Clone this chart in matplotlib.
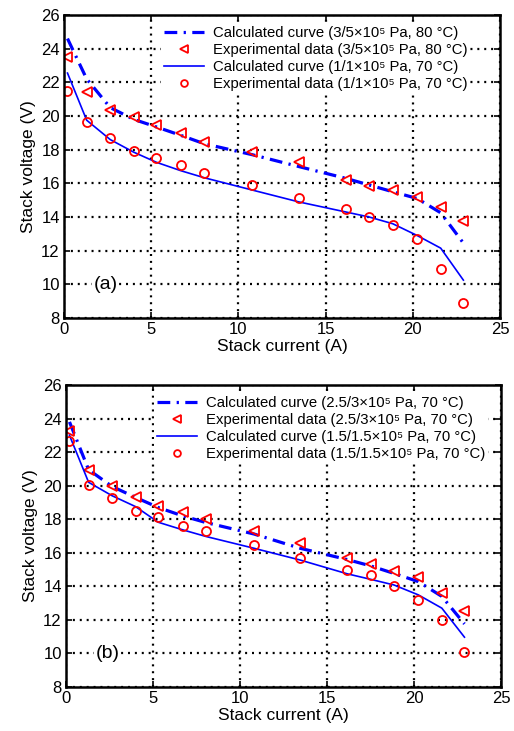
import matplotlib
matplotlib.use('Agg')
import matplotlib.pyplot as plt
import numpy as np

plt.rcParams['font.family'] = ['Liberation Sans', 'DejaVu Sans']

# stack current (A), shared by all series
current = [0.2, 1.3, 2.65, 4.0, 5.3, 6.7, 8.05, 10.8, 13.45, 16.15, 17.5, 18.85, 20.25, 21.6, 22.9]

# panel (a)
exp_hi_a = [23.5, 21.45, 20.37, 19.92, 19.45, 18.97, 18.43, 17.85, 17.25, 16.2, 15.85, 15.6, 15.2, 14.6, 13.75]
exp_lo_a = [21.5, 19.65, 18.68, 17.93, 17.5, 17.1, 16.62, 15.9, 15.1, 14.45, 14.0, 13.5, 12.7, 10.9, 8.9]
calc_hi_a = [24.6, 22.2, 20.5, 19.8, 19.35, 18.85, 18.35, 17.7, 17.0, 16.3, 15.9, 15.5, 15.1, 14.25, 12.45]
calc_lo_a = [22.55, 19.75, 18.6, 17.85, 17.25, 16.75, 16.33, 15.6, 14.9, 14.3, 14.0, 13.6, 12.9, 12.15, 10.25]
labels_a = ['Calculated curve (3/5×10⁵ Pa, 80 °C)',
            'Experimental data (3/5×10⁵ Pa, 80 °C)',
            'Calculated curve (1/1×10⁵ Pa, 70 °C)',
            'Experimental data (1/1×10⁵ Pa, 70 °C)']

# panel (b)
exp_hi_b = [23.24, 20.96, 20.0, 19.34, 18.8, 18.44, 18.0, 17.32, 16.57, 15.7, 15.33, 14.93, 14.53, 13.58, 12.53]
exp_lo_b = [22.66, 20.06, 19.26, 18.5, 18.14, 17.6, 17.3, 16.47, 15.71, 14.97, 14.67, 14.04, 13.19, 12.0, 10.08]
calc_hi_b = [23.8, 20.95, 19.95, 19.3, 18.7, 18.2, 17.8, 17.12, 16.27, 15.6, 15.22, 14.77, 14.28, 13.4, 11.76]
calc_lo_b = [23.0, 20.2, 19.4, 18.75, 17.82, 17.37, 16.97, 16.27, 15.57, 14.75, 14.42, 14.08, 13.49, 12.7, 10.97]
labels_b = ['Calculated curve (2.5/3×10⁵ Pa, 70 °C)',
            'Experimental data (2.5/3×10⁵ Pa, 70 °C)',
            'Calculated curve (1.5/1.5×10⁵ Pa, 70 °C)',
            'Experimental data (1.5/1.5×10⁵ Pa, 70 °C)']

fig = plt.figure(figsize=(5.14, 7.31), dpi=100)
ax_a = fig.add_axes([64/514, 1-318/731, 436/514, 303/731])
ax_b = fig.add_axes([66/514, 1-687/731, 435/514, 302/731])


def draw_panel(ax, calc_hi, exp_hi, calc_lo, exp_lo, labels, tag, leg_x):
    ax.plot(current, calc_hi, color='#0000ff', lw=2.3,
            linestyle=(0, (4, 2, 0.7, 2)), label=labels[0])
    ax.plot(current, exp_hi, linestyle='none', marker='<', ms=7,
            mfc='none', mec='#ff0000', mew=1.3, label=labels[1])
    ax.plot(current, calc_lo, color='#0000ff', lw=1.2, label=labels[2])
    ax.plot(current, exp_lo, linestyle='none', marker='o', ms=6.5,
            mfc='none', mec='#ff0000', mew=1.3, label=labels[3])

    ax.set_xlim(0, 25)
    ax.set_ylim(8, 26)
    ax.set_xticks(np.arange(0, 26, 5))
    ax.set_yticks(np.arange(8, 27, 2))
    ax.grid(True, color='black', lw=1.6, linestyle=(0, (0.9, 2.2)))
    ax.tick_params(direction='in', top=True, right=True, length=4,
                   width=1.2, labelsize=12, pad=3)
    for s in ax.spines.values():
        s.set_linewidth(1.8)
    ax.set_xlabel('Stack current (A)', fontsize=12.5, labelpad=1)
    ax.set_ylabel('Stack voltage (V)', fontsize=12.5, labelpad=4)
    ax.text(1.7, 10, tag, fontsize=14, va='center', ha='left',
            bbox=dict(facecolor='white', edgecolor='none', pad=1))
    ax.legend(loc='upper right', bbox_to_anchor=(leg_x, 0.972),
              fontsize=10.7, frameon=True, framealpha=1, edgecolor='none',
              fancybox=False, markerscale=0.75, handlelength=2.7,
              handletextpad=0.6, labelspacing=0.2, borderpad=0.2,
              borderaxespad=0)


draw_panel(ax_a, calc_hi_a, exp_hi_a, calc_lo_a, exp_lo_a, labels_a, '(a)', 0.932)
draw_panel(ax_b, calc_hi_b, exp_hi_b, calc_lo_b, exp_lo_b, labels_b, '(b)', 0.971)

fig.savefig('out.png', dpi=100)
plt.close()
